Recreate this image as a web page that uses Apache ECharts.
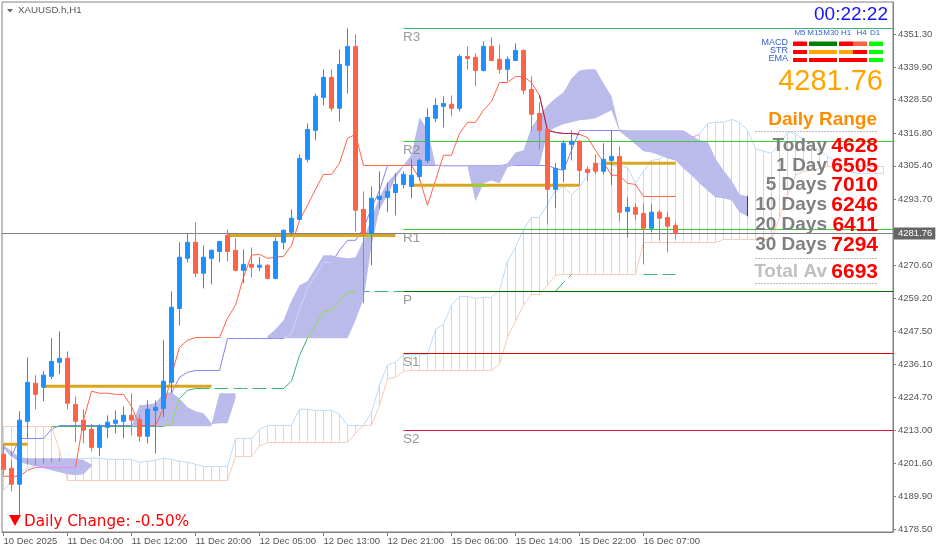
<!DOCTYPE html>
<html><head><meta charset="utf-8">
<style>html,body{margin:0;padding:0;background:#fff}#c{width:939px;height:553px}</style>
<script src="https://cdn.jsdelivr.net/npm/echarts@6/dist/echarts.min.js"></script></head>
<body><div id="c"></div><script>
const xLabels=['10 Dec 2025','11 Dec 04:00','11 Dec 12:00','11 Dec 20:00','12 Dec 05:00','12 Dec 13:00','12 Dec 21:00','15 Dec 06:00','15 Dec 14:00','15 Dec 22:00','16 Dec 07:00'];
const yTicks=[4351.30,4339.90,4328.50,4316.80,4305.40,4293.70,4270.60,4259.20,4247.50,4236.10,4224.70,4213.00,4201.60,4189.90,4178.50];
const lastPrice=4281.76;
const opens=[4204.7,4199.8,4194.2,4216.2,4229.5,4228.1,4231.9,4236.8,4238.2,4222.1,4216.6,4213.4,4207.1,4214.1,4215.5,4216.2,4218.3,4216.9,4211.0,4220.0,4220.7,4229.8,4255.6,4273.1,4278.7,4267.9,4273.1,4275.5,4281.1,4275.9,4268.9,4271.0,4270.0,4270.7,4266.1,4278.7,4282.2,4286.7,4307.7,4317.8,4329.3,4336.3,4325.5,4340.5,4347.1,4290.2,4281.8,4293.7,4294.4,4296.1,4298.9,4298.2,4301.7,4307.3,4322.0,4326.2,4326.9,4325.5,4343.6,4343.3,4338.7,4347.1,4342.6,4339.1,4342.2,4345.7,4332.1,4323.7,4318.1,4297.2,4304.2,4312.9,4314.0,4304.2,4306.3,4303.5,4307.3,4308.7,4289.5,4290.9,4288.8,4283.6,4289.2,4287.4,4284.6];
const closes=[4199.4,4194.2,4216.6,4229.8,4225.6,4232.3,4237.1,4238.2,4222.5,4216.2,4213.1,4207.1,4214.5,4215.9,4216.6,4218.3,4216.6,4211.0,4220.4,4221.1,4230.2,4256.0,4273.5,4278.7,4267.9,4273.5,4275.9,4279.0,4275.5,4268.9,4271.0,4270.0,4270.7,4266.1,4279.0,4282.9,4287.1,4308.0,4318.1,4329.7,4336.3,4325.5,4340.8,4347.1,4289.9,4281.8,4294.1,4294.8,4296.5,4298.9,4302.4,4302.1,4307.3,4322.3,4326.5,4327.2,4325.5,4343.6,4342.9,4338.7,4347.1,4342.2,4339.1,4342.6,4345.7,4331.8,4323.4,4317.8,4297.2,4304.5,4313.3,4314.0,4303.8,4303.1,4303.5,4307.7,4308.7,4289.2,4290.9,4288.5,4283.6,4289.2,4287.1,4284.3,4281.76];
const lows=[4197.4,4191.8,4183.0,4210.3,4220.4,4223.2,4230.9,4232.6,4220.4,4208.9,4208.5,4205.7,4204.0,4210.3,4212.0,4210.3,4211.3,4209.2,4208.5,4205.0,4217.6,4226.0,4249.7,4271.7,4266.5,4262.6,4264.0,4271.7,4272.1,4268.6,4264.4,4266.5,4268.6,4265.8,4265.8,4276.2,4281.1,4286.7,4306.6,4314.3,4326.5,4324.4,4320.9,4330.7,4282.5,4257.4,4270.7,4290.2,4289.2,4288.1,4297.5,4294.1,4300.3,4306.3,4320.6,4318.8,4322.7,4324.4,4339.1,4333.2,4338.4,4341.9,4337.7,4334.9,4342.2,4330.4,4317.4,4311.2,4285.0,4290.6,4299.6,4307.3,4298.6,4300.0,4302.4,4302.4,4298.6,4286.0,4280.4,4286.4,4271.0,4282.2,4279.4,4275.2,4279.7];
const highs=[4208.2,4202.6,4219.7,4238.5,4232.3,4233.7,4245.2,4247.6,4240.6,4224.9,4220.4,4215.2,4215.2,4218.3,4220.0,4221.4,4226.0,4218.6,4223.5,4223.5,4244.5,4261.6,4278.7,4281.8,4285.7,4277.6,4276.2,4279.0,4283.2,4280.1,4276.2,4276.9,4273.5,4271.0,4280.4,4283.2,4290.2,4309.4,4320.2,4330.7,4339.1,4339.1,4346.1,4353.4,4351.3,4296.5,4298.2,4303.5,4299.6,4302.8,4303.5,4307.7,4308.0,4325.5,4329.0,4329.7,4330.0,4344.3,4347.1,4344.7,4348.9,4350.3,4347.8,4343.6,4348.2,4346.1,4336.6,4327.6,4318.1,4306.3,4314.3,4317.8,4314.3,4305.2,4309.4,4313.3,4317.8,4312.2,4294.4,4292.3,4292.3,4292.0,4289.9,4289.2,4285.7];
const tenkan=[4197.0,4197.0,4197.0,4199.1,4200.06,4200.06,4200.06,4200.06,4200.06,4200.06,4216.6,4226.7,4226.0,4226.0,4225.6,4225.6,4221.4,4214.73,4214.73,4214.73,4220.7,4232.3,4242.0,4244.5,4245.46,4245.46,4245.46,4245.46,4252.2,4256.7,4266.5,4274.2,4274.5,4273.1,4273.5,4273.8,4277.6,4286.4,4291.6,4297.2,4302.4,4302.4,4306.3,4315.0,4316.4,4305.52,4305.52,4305.52,4305.52,4305.52,4305.52,4305.52,4301.0,4291.6,4300.3,4309.1,4309.1,4316.7,4320.6,4320.6,4324.8,4327.9,4334.5,4334.5,4336.6,4336.6,4334.5,4330.0,4317.8,4317.1,4316.7,4316.7,4316.4,4315.3,4310.8,4306.6,4302.1,4302.1,4299.3,4298.9,4294.69,4294.69,4294.69,4294.69,4294.69];
const kijun=[4207.1,4204.0,4210.19,4210.19,4210.19,4210.19,4213.4,4214.73,4214.73,4214.73,4214.73,4214.73,4214.73,4214.73,4214.73,4214.73,4214.73,4214.73,4214.73,4214.73,4220.0,4226.0,4231.6,4233.3,4233.94,4233.94,4233.94,4233.94,4245.11,4245.11,4245.11,4245.11,4245.11,4245.11,4245.11,4245.11,4246.9,4255.0,4262.6,4267.2,4271.7,4271.7,4275.9,4279.4,4279.4,4283.6,4290.6,4296.8,4305.52,4305.52,4305.52,4305.52,4305.52,4305.52,4305.52,4305.52,4305.52,4305.52,4305.52,4305.52,4305.52,4305.52,4305.52,4305.52,4305.52,4305.52,4305.52,4305.52,4305.52,4304.5,4303.8,4310.8,4317.74,4317.74,4317.74,4317.74,4317.74,4317.74,4315.7,4315.3,4310.8,4310.41,4310.41,4310.41,4310.41];
const spanA=[4192.1,4195.3,4198.4,4199.8,4200.8,4201.5,4201.9,4202.2,4202.6,4202.9,4203.3,4203.3,4203.3,4202.9,4202.9,4202.9,4202.9,4201.9,4202.2,4202.6,4203.3,4202.9,4202.2,4201.9,4201.2,4200.41,4200.41,4200.41,4200.41,4210.19,4210.19,4210.19,4213.4,4214.73,4214.73,4214.73,4214.73,4220.4,4220.4,4220.0,4220.0,4220.0,4218.6,4214.73,4214.73,4214.73,4219.3,4228.8,4235.8,4236.8,4239.52,4239.52,4239.52,4239.52,4248.3,4250.1,4256.7,4259.8,4259.8,4259.1,4259.5,4259.5,4261.9,4272.1,4276.9,4283.2,4287.4,4287.4,4292.0,4296.8,4298.2,4295.4,4297.9,4302.1,4305.9,4306.3,4305.6,4305.2,4304.9,4299.3,4303.5,4307.3,4307.7,4310.1,4313.3,4314.0,4315.3,4316.4,4320.2,4320.6,4320.6,4321.6,4320.6,4317.8,4311.5,4310.5,4309.8,4312.9,4317.1,4316.7,4314.6,4312.6,4310.8,4308.7,4307.0,4304.9,4303.1,4302.8,4302.8,4302.8,4302.8];
const spanB=[4214.38,4214.38,4214.38,4214.38,4214.38,4214.38,4214.38,4206.1,4195.52,4195.52,4195.52,4195.52,4195.52,4195.52,4195.52,4195.52,4195.52,4195.52,4195.52,4195.52,4195.52,4195.52,4195.52,4195.52,4195.52,4195.52,4195.52,4195.52,4195.52,4203.91,4203.91,4203.91,4207.5,4208.79,4208.79,4208.79,4208.79,4208.79,4208.79,4208.79,4208.79,4208.79,4208.79,4208.79,4212.0,4214.8,4214.8,4221.8,4230.9,4231.6,4233.7,4233.94,4233.94,4233.94,4233.94,4233.94,4233.94,4233.94,4233.94,4233.94,4233.94,4233.94,4236.1,4245.5,4251.1,4256.7,4260.5,4260.5,4263.7,4267.2,4267.46,4267.46,4267.46,4267.46,4267.46,4267.46,4267.46,4267.46,4267.46,4267.46,4278.63,4278.63,4278.63,4278.63,4278.63,4278.63,4278.63,4278.63,4278.63,4278.63,4279.68,4279.68,4279.68,4279.68,4279.68,4279.68,4279.68,4287.4,4295.1,4302.1,4303.5,4303.8,4304.5,4305.17,4305.17,4305.17,4305.17,4305.17,4305.17,4305.17,4305.17];
const cloud1Top=[4207.8,4205.7,4203.6,4203.3,4203.3,4203.3,4203.3,4203.3,4203.3,4203.3,4202.6,4201.2];
const cloud1Bot=[4207.1,4204.0,4201.9,4201.2,4200.5,4199.8,4199.1,4198.4,4197.7,4197.4,4197.7,4200.5];
const cloud2Top=[4214.5,4221.8,4222.1,4222.5,4226.0,4226.3,4224.2,4221.1,4219.7,4219.0,4215.5];
const cloud2Bot=[4214.5,4214.5,4214.5,4214.5,4214.5,4214.5,4214.5,4214.5,4214.5,4214.5,4214.5];
const cloud3Top=[4215.2,4226.0,4226.0,4226.0];
const cloud3Bot=[4215.2,4215.5,4215.5,4224.2];
const cloud4Top=[4245.9,4248.3,4251.5,4258.4,4263.7,4265.1,4269.6,4274.2,4274.2,4273.5,4273.1,4273.5,4279.4,4287.4,4294.4,4299.6,4302.8,4305.6,4309.4,4322.3,4318.1,4305.9,4305.6,4305.6,4305.6,4305.6,4305.6,4305.6,4305.6,4305.6,4306.3,4310.1,4310.8,4318.8,4323.0,4326.5,4329.0,4331.1,4335.9,4338.7,4339.1,4339.1,4334.2,4329.7,4318.1,4317.8,4317.8,4317.8,4317.8,4317.8,4317.8,4317.8,4317.8,4316.0,4314.3,4314.0,4308.0,4303.8,4300.3,4295.4,4294.8];
const cloud4Bot=[4245.2,4245.2,4245.2,4245.2,4245.2,4245.2,4245.2,4245.2,4245.2,4245.2,4245.2,4251.5,4258.8,4277.6,4290.2,4295.1,4301.0,4305.2,4305.6,4305.6,4305.6,4305.6,4305.2,4305.2,4305.2,4305.2,4293.0,4299.3,4300.3,4299.3,4304.9,4305.6,4305.6,4305.6,4305.6,4317.1,4318.8,4319.9,4320.6,4321.3,4321.6,4322.0,4323.4,4324.8,4317.4,4315.3,4312.9,4310.5,4310.1,4309.1,4308.0,4307.3,4304.5,4302.1,4299.3,4296.8,4294.4,4294.1,4293.4,4289.2,4287.8];
const cloudStarts=[0,16,26,33];
const goldLevels=[4208.2,4228.4,4281.1,4298.6,4306.3];
const goldFrom=[0,5,28,51,75];
const goldTo=[3,26,49,72,84];
const pivotNames=['R3','R2','R1','P','S1','S2'];
const pivotValues=[4353.36,4313.90,4283.17,4261.52,4239.87,4212.98];
const pivotColors=['#3CB371','#32CD32','#32CD32','#006400','#E00000','#DC143C'];
const green1=[4214.38,4214.38,4214.38,4214.38,4214.38,4214.38,4214.38,4214.38,4214.38,4214.38,4214.38,4214.38,4214.38,4214.38,4214.38];
const green2=[4214.38,4215.2,4224.2];
const green3=[4224.2,4227.0,4227.65];
const greenDash1=[4227.65,4227.65,4227.65,4227.65,4227.65,4227.65,4227.65,4227.65,4227.65,4227.65,4227.65,4227.65];
const green4=[4227.65,4230.2,4239.2,4245.2];
const green5=[4245.2,4249.7,4254.6,4255.0,4258.1,4261.2,4261.52];
const greenDash2=[4261.52,4261.52,4261.52,4261.52,4261.52,4261.52,4261.52];
const greenDash3=[4261.6,4264.7,4267.46];
const greenDash4=[4267.46,4267.46,4267.46,4267.46,4267.46];
const signalCols=['M5','M15','M30','H1','H4','D1'];
const signalRows=['MACD','STR','EMA'];
const signalColors=[['#FF0000','#008000','#008000','#FF0000','#FF6347','#00FF00'],['#FF0000','#FFA500','#FFA500','#FFA500','#FF0000','#00FF00'],['#FF0000','#FF0000','#FF0000','#FF0000','#FF0000','#00FF00']];
const rangeNames=['Today','1 Day','5 Days','10 Days','20 Days','30 Days'];
const rangeValues=['4628','6505','7010','6246','6411','7294'];

const run=(s,a)=>a.map((v,k)=>[s+k,v]);
const lineS=(data,color,width,extra)=>Object.assign({type:'line',data,symbol:'none',silent:true,animation:false,lineStyle:{color,width},z:3},extra||{});
const candles=opens.map((o,i)=>[i,o,closes[i],lows[i],highs[i]]);
const cloudRuns=[[cloud1Top,cloud1Bot],[cloud2Top,cloud2Bot],[cloud3Top,cloud3Bot],[cloud4Top,cloud4Bot]];
const LAV='#BBBBEB',HB='#BBDCFA',HP='#F8CDB8';
const series=[];
series.push({type:'custom',silent:true,animation:false,z:1,clip:true,data:spanA.map((a,i)=>[i,a,spanB[i]]),
 renderItem(p,api){const i=api.value(0),a=api.value(1),b=api.value(2);
  const hi=Math.max(a,b),lo=Math.min(a,b);const up=a>=b;const col=up?HB:HP;
  const A=api.coord([i,hi]),B=api.coord([i,lo]);
  return {type:'line',shape:{x1:A[0],y1:A[1],x2:B[0],y2:B[1]},style:{stroke:col,lineWidth:1}};}});
series.push(lineS(run(0,kijun),'#8484F4',1,{z:2}));
series.push(lineS(run(0,spanA),HB,1,{z:2}));
series.push(lineS(run(0,spanB),HP,1,{z:2}));
[[green1,6],[green3,22],[green4,35]].forEach(([a,s])=>series.push(lineS(run(s,a),'#3CB371',1,{z:2})));
[[greenDash1,24],[greenDash2,44],[greenDash3,69],[greenDash4,80]].forEach(([a,s])=>series.push(lineS(run(s,a),'#3CB371',1,{z:2,lineStyle:{color:'#3CB371',width:1,type:[14,5]}})));
series.push({type:'custom',silent:true,animation:false,z:4,clip:true,data:cloudRuns.map((r,k)=>[k]),
 renderItem(p,api){const k=api.value(0),[t,b]=cloudRuns[k],s=cloudStarts[k];const pts=[];
  t.forEach((v,j)=>pts.push(api.coord([s+j,v])));
  for(let j=b.length-1;j>=0;j--)pts.push(api.coord([s+j,b[j]]));
  return {type:'polygon',shape:{points:pts},style:{fill:LAV}};}});
series.push({type:'custom',silent:true,animation:false,z:5,clip:true,data:spanA.map((a,i)=>[i,a,spanB[i]]),
 renderItem(p,api){const i=api.value(0),a=api.value(1),b=api.value(2);const hi=Math.max(a,b),lo=Math.min(a,b),up=a>=b;const kids=[];
  cloudRuns.forEach(([t,bt],k)=>{const j=i-cloudStarts[k];if(j<0||j>=t.length)return;const u=Math.min(hi,t[j]),d=Math.max(lo,bt[j]);if(u<=d)return;
   const A=api.coord([i,u]),B=api.coord([i,d]);kids.push({type:'line',shape:{x1:A[0],y1:A[1],x2:B[0],y2:B[1]},style:{stroke:up?'#F0A4E4':'#9C8098',lineWidth:1}})});
  return {type:'group',children:kids};}});
series.push(lineS(run(84,spanA.slice(84,88)),'#F0A4E4',1,{z:5}));
series.push(lineS(run(35,kijun.slice(35,42)),'#D4D4F6',1,{z:5}));
series.push(lineS(run(20,green2),'#8FE040',1,{z:5}));
series.push(lineS(run(38,green5),'#8FE040',1,{z:5}));
pivotNames.forEach((n,k)=>series.push(lineS([[50,pivotValues[k]],[111.2,pivotValues[k]]],pivotColors[k],1,{z:6})));
series.push({type:'scatter',silent:true,animation:false,z:7,symbolSize:1,itemStyle:{color:'rgba(0,0,0,0)'},
 data:pivotNames.map((n,k)=>({value:[50,pivotValues[k]],name:n})),
 label:{show:true,formatter:p=>p.name,position:[0,2],align:'left',verticalAlign:'top',color:'#808080',fontFamily:'Liberation Sans',fontSize:13.5}});
series.push(lineS(run(0,tenkan),'#FF6347',1,{z:6}));
series.push(lineS(run(4,tenkan.slice(4,10)),'#F088E8',1,{z:6}));
series.push(lineS(run(67,tenkan.slice(67,73)),'#A8205A',1,{z:6}));
goldLevels.forEach((v,k)=>series.push(lineS([[goldFrom[k],v],[goldTo[k],v]],'#DAA520',3,{z:7})));
series.push(lineS([[45.5,goldLevels[2]],[46,goldLevels[2]]],'#9ACD32',3,{z:7}));
series.push(lineS([[58.6,goldLevels[3]],[60.3,goldLevels[3]]],'#9ACD32',3,{z:7}));
series.push(lineS([[93,cloud4Top[60]],[93,cloud4Bot[60]]],'#006400',1,{z:7}));
series.push({type:'candlestick',data:candles,silent:true,animation:false,z:8,barWidth:4,clip:true,
 itemStyle:{color:'#1E90FF',color0:'#FF6347',borderColor:'#1E90FF',borderColor0:'#FF6347',borderWidth:1},
 markLine:{silent:true,symbol:'none',animation:false,z:7,lineStyle:{color:'#808080',width:1,type:'solid'},data:[{yAxis:lastPrice}],
  label:{position:'end',distance:1,formatter:lastPrice.toFixed(2),color:'#fff',backgroundColor:'#666666',padding:[1,3,1,4],fontFamily:'Liberation Sans',fontSize:9.5}}});

const F='Liberation Sans';
const T=(text,x,y,font,fill,align)=>({type:'text',z:50,style:{text,x,y,font:font+' "'+F+'"',fill,textAlign:align||'right',textVerticalAlign:'middle'}});
const g=[];
g.push({type:'polygon',z:50,shape:{points:[[7,9],[13,9],[10,12.5]]},style:{fill:'#666'}});
g.push(T('XAUUSD.h,H1',18,10,'9.7px','#555','left'));
g.push(T('00:22:22',888,15,'19px','#1414FF'));
const colMid=[800,815,831,846,861.5,875];
signalCols.forEach((c,k)=>g.push(T(c,colMid[k],33,'8px','#3060D0','center')));
signalRows.forEach((r,k)=>{g.push(T(r,788,[43,51,59][k],'9px','#3060D0'));
 signalColors[k].forEach((col,j)=>{const x=[793,809,823,839,853,869][j];g.push({type:'rect',z:50,shape:{x,y:[41.5,50,58][k],width:14,height:[4.5,4,4][k]},style:{fill:col}});});});
g.push(T('4281.76',883,82,'29px','#FFA500'));
g.push(T('Daily Range',877,120,'bold 19px','#FF8C00'));
[131,258,283].forEach(y=>g.push({type:'line',z:50,shape:{x1:755,y1:y+.5,x2:878,y2:y+.5},style:{stroke:'#BBBBBB',lineWidth:1,lineDash:[2,1]}}));
const rowY=[146,166,185,205,225,245];
rangeNames.forEach((n,k)=>{g.push(T(n,827,rowY[k],'bold 19px','#808080'));g.push(T(rangeValues[k],878,rowY[k],'bold 21px','#FF0000'));});
g.push(T('Total Av',827,272,'bold 19px','#C0C0C0'));g.push(T('6693',878,272,'bold 21px','#FF0000'));
g.push({type:'polygon',z:50,shape:{points:[[9,515],[21,515],[15,526]]},style:{fill:'#FF0000'}});
g.push({type:'text',z:50,style:{text:'Daily Change: -0.50%',x:24,y:522.5,font:'15.2px "DejaVu Sans"',fill:'#FF0000',textAlign:'left',textVerticalAlign:'middle'}});

const chart=echarts.init(document.getElementById('c'),null,{renderer:'canvas'});
chart.setOption({animation:false,backgroundColor:'#fff',
 grid:{left:2,right:46,top:2,bottom:21,show:true,borderColor:'#808080',borderWidth:1,backgroundColor:'#fff'},
 xAxis:{type:'value',min:-0.1875,max:111.1875,splitLine:{show:false},axisLine:{onZero:false,lineStyle:{color:'#808080'}},
  axisTick:{show:true,length:4,customValues:xLabels.map((l,k)=>k*8),lineStyle:{color:'#808080'}},
  axisLabel:{customValues:xLabels.map((l,k)=>k*8),formatter:v=>xLabels[Math.round(v/8)],align:'left',margin:4,color:'#555',fontFamily:F,fontSize:9.5,showMinLabel:true,showMaxLabel:true,hideOverlap:false}},
 yAxis:{type:'value',position:'right',min:4177.54,max:4362.61,splitLine:{show:false},axisLine:{show:true,onZero:false,lineStyle:{color:'#808080'}},
  axisTick:{show:true,length:3,customValues:yTicks,lineStyle:{color:'#808080'}},
  axisLabel:{customValues:yTicks,formatter:v=>v.toFixed(2),margin:5,color:'#555',fontFamily:F,fontSize:9.5,showMinLabel:true,showMaxLabel:true}},
 graphic:g,series});
</script></body></html>
